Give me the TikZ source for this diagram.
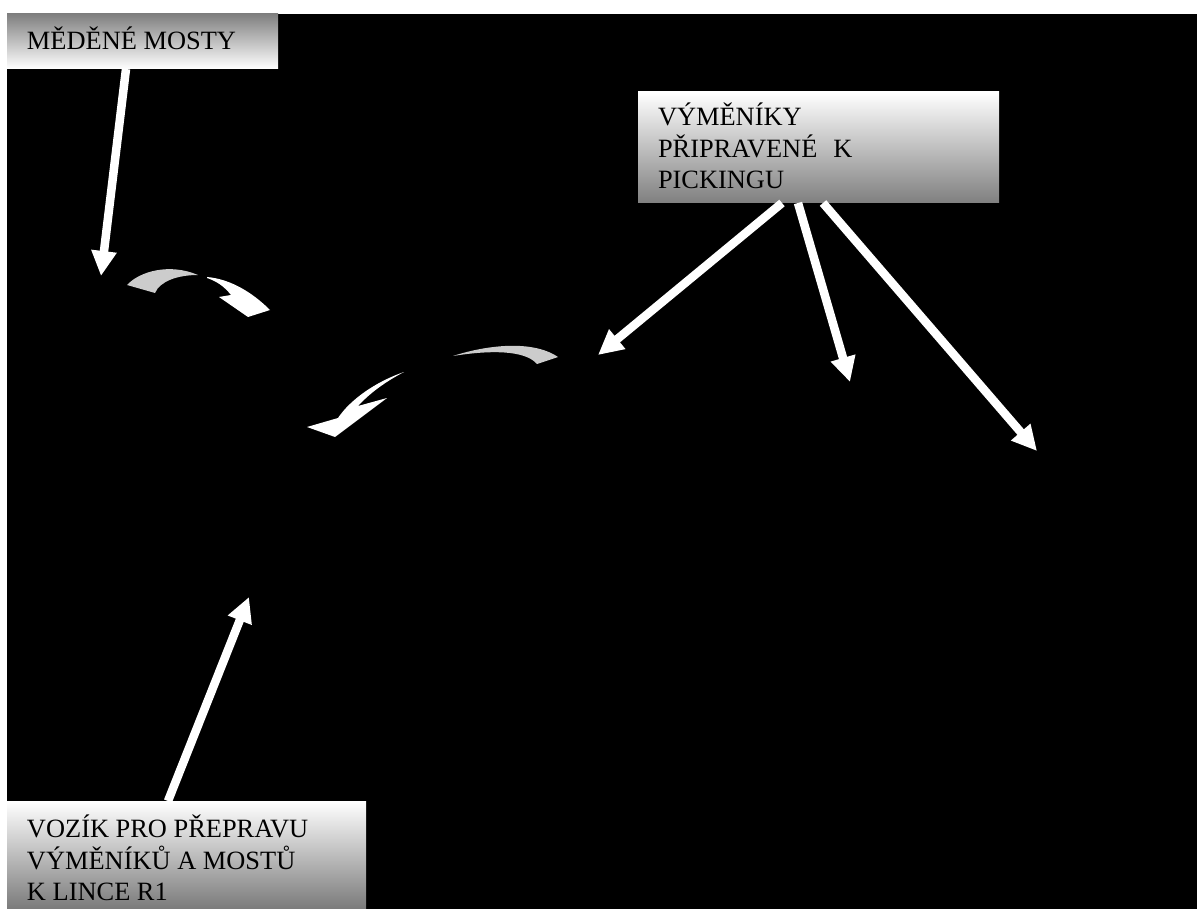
\documentclass[tikz,border=0pt]{standalone}
\usepackage{fontspec}
\setmainfont{Liberation Serif}
\usetikzlibrary{arrows.meta,calc}
\begin{document}
\begin{tikzpicture}[x=1pt,y=-1pt,
  panel/.style={draw=none, inner sep=0pt, outer sep=0pt, anchor=north west},
  caption/.style={anchor=base west, inner sep=0pt, outer sep=0pt,
    font=\fontsize{26.4}{30.8}\selectfont},
  pointer/.style={draw=white, line width=8.5pt,
    -{Triangle[length=25pt,width=24pt]}},
  ribbonback/.style={fill=black!20},
  ribbonfront/.style={fill=white}]
% page and dark background
\useasboundingbox (0,0) rectangle (1197,909);
\fill[white] (0,0) rectangle (1197,909);
\fill[black] (7,14) rectangle (1197,909);

% label panels
\node[panel, minimum width=271pt, minimum height=55pt,
  top color=black!50, middle color=black!18, bottom color=white] (copper) at (7,14) {};
\node[panel, minimum width=361pt, minimum height=111pt,
  top color=white, middle color=black!12, bottom color=black!50] (exch) at (638,92) {};
\node[panel, minimum width=359pt, minimum height=108pt,
  top color=white, middle color=black!14, bottom color=black!52] (cart) at (7,801) {};

% label texts
\node[caption] (copperText) at (27,50) {MĚDĚNÉ MOSTY};
\node[caption] (exchText) at (658,126) {\begin{tabular}[t]{@{}l@{}}VÝMĚNÍKY\\PŘIPRAVENÉ\hspace{0.6em}K\\PICKINGU\end{tabular}};
\node[caption] (cartText) at (27,837) {\begin{tabular}[t]{@{}l@{}}VOZÍK PRO PŘEPRAVU\\VÝMĚNÍKŮ A MOSTŮ\\K LINCE R1\end{tabular}};

% pointer targets
\coordinate (tipCopper) at (101,276);
\coordinate (tipA) at (598,355);
\coordinate (tipB) at (850,382);
\coordinate (tipC) at (1037,451);
\coordinate (tipCart) at (249,597);

% straight pointers
\draw[pointer] ([xshift=119pt]copper.south west) -- (tipCopper);
\draw[pointer] ([xshift=144pt]exch.south west) -- (tipA);
\draw[pointer] ([xshift=160pt]exch.south west) -- (tipB);
\draw[pointer] ([xshift=185pt]exch.south west) -- (tipC);
\draw[pointer] ([xshift=161pt]cart.north west) -- (tipCart);

% first curved arrow (left)
\fill[ribbonback] (127,285) .. controls (140,271) and (170,263) .. (198,275)
  .. controls (178,275) and (160,281) .. (155,293) -- cycle;
\fill[ribbonfront] (207,277) .. controls (230,279) and (252,292) .. (270,310)
  -- (248,317) -- (219,297) -- (231,295)
  .. controls (224,286) and (216,281) .. (207,278) -- cycle;

% second curved arrow (middle)
\fill[ribbonback] (453,356) .. controls (480,347) and (530,338) .. (558,357)
  -- (537,364) .. controls (525,350) and (490,350) .. (453,356) -- cycle;
\fill[ribbonfront] (404,372) .. controls (375,382) and (350,400) .. (338,418)
  -- (307,427) -- (335,437) -- (387,398) -- (358,406)
  .. controls (370,393) and (385,382) .. (404,372) -- cycle;
\end{tikzpicture}
\end{document}
